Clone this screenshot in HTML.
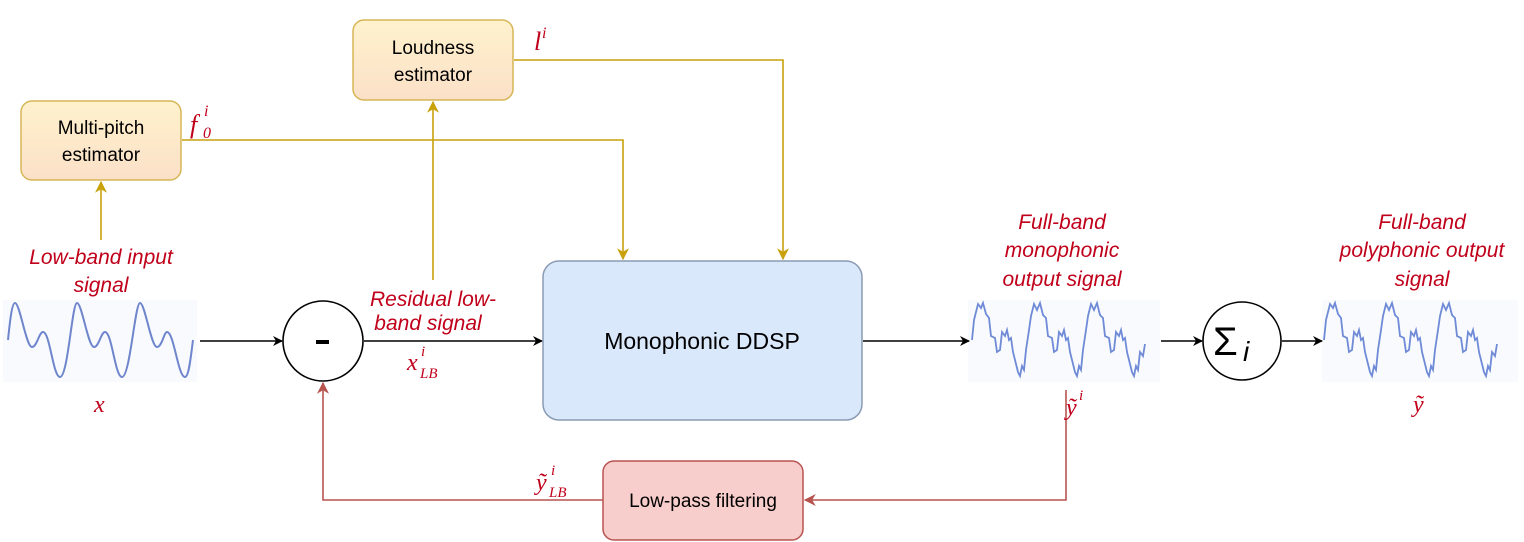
<!DOCTYPE html>
<html><head><meta charset="utf-8"><style>
body{margin:0;background:#fff;}
svg{display:block}
text{font-family:"Liberation Sans",sans-serif;}
.lab{fill:#c0001a;font-style:italic;font-size:21px;}
.m{fill:#c0001a;font-family:"Liberation Serif",serif;font-style:italic;}
</style></head><body>
<svg width="1524" height="542" viewBox="0 0 1524 542" xmlns="http://www.w3.org/2000/svg">
<defs>
<marker id="ak" markerWidth="10" markerHeight="10" refX="9" refY="5" orient="auto" markerUnits="userSpaceOnUse" viewBox="0 0 10 10"><path d="M0,0 L10,5 L0,10 L3,5z" fill="#000"/></marker>
<marker id="ay" markerWidth="12" markerHeight="12" refX="9" refY="5" orient="auto" markerUnits="userSpaceOnUse" viewBox="0 0 10 10"><path d="M0,0 L10,5 L0,10 L3,5z" fill="#c9a10b"/></marker>
<marker id="ar" markerWidth="12" markerHeight="12" refX="9" refY="5" orient="auto" markerUnits="userSpaceOnUse" viewBox="0 0 10 10"><path d="M0,0 L10,5 L0,10 L3,5z" fill="#b85450"/></marker>
<linearGradient id="go" x1="0" y1="0" x2="0" y2="1"><stop offset="0" stop-color="#fff2cc"/><stop offset="1" stop-color="#fbe0c8"/></linearGradient>
</defs>
<!-- waveforms backgrounds -->
<rect x="3" y="300" width="194" height="82" fill="#f8fafe"/>
<rect x="968" y="300" width="192" height="82" fill="#f8fafe"/>
<rect x="1322" y="300" width="196" height="82" fill="#f8fafe"/>
<path d="M8,340 C10,320 12,303 15,303 C20,303 26,347 32,347 C37,347 39,332 43,332 C50,332 53,377 60,377 C68,377 72,303 77,303 C82,303 88,347 94,347 C99,347 101,332 105,332 C112,332 115,377 122,377 C130,377 135,303 140,303 C145,303 151,347 157,347 C162,347 164,332 167,332 C174,332 178,377 185,377 C189,377 191,355 193,340" fill="none" stroke="#6f86cc" stroke-width="2"/>
<g fill="none" stroke="#6f8ad6" stroke-width="1.8">
<polyline id="nw" points="972,340 974,320 978,304 981,308 983,303 986,314 989,318 991,336 995,338 997,352 1000,350 1002,332 1005,336 1007,330 1009,340 1011,338 1013,352 1016,364 1018,372 1020,376 1022,366 1024,370 1026,350 1029,330 1031,316 1034,304 1037,310 1040,303 1043,315 1046,318 1048,336 1052,338 1054,352 1057,350 1059,332 1062,336 1064,330 1066,340 1068,338 1070,352 1073,364 1075,372 1077,376 1079,366 1081,370 1083,350 1086,330 1088,316 1091,304 1094,310 1097,303 1100,315 1103,318 1105,336 1109,338 1111,352 1114,350 1116,332 1119,336 1121,330 1123,340 1125,338 1127,352 1130,364 1132,372 1134,376 1136,366 1138,370 1140,352 1143,356 1145,344"/>
<use href="#nw" transform="translate(352,0)"/>
</g>
<!-- connectors -->
<g stroke="#000" stroke-width="1.6" fill="none">
<line x1="200" y1="341" x2="282" y2="341" marker-end="url(#ak)"/>
<line x1="364" y1="341" x2="542" y2="341" marker-end="url(#ak)"/>
<line x1="863" y1="341" x2="969" y2="341" marker-end="url(#ak)"/>
<line x1="1161" y1="341" x2="1202" y2="341" marker-end="url(#ak)"/>
<line x1="1282" y1="341" x2="1322" y2="341" marker-end="url(#ak)"/>
</g>
<g stroke="#c9a10b" stroke-width="1.6" fill="none">
<line x1="101" y1="240" x2="101" y2="182" marker-end="url(#ay)"/>
<line x1="433" y1="280" x2="433" y2="102" marker-end="url(#ay)"/>
<polyline points="182,140 623,140 623,259" marker-end="url(#ay)"/>
<polyline points="514,60 783,60 783,259" marker-end="url(#ay)"/>
</g>
<g stroke="#b85450" stroke-width="1.6" fill="none">
<polyline points="1066,390 1066,500 805,500" marker-end="url(#ar)"/>
<polyline points="603,500 323,500 323,383" marker-end="url(#ar)"/>
</g>
<!-- boxes -->
<rect x="21" y="101" width="160" height="79" rx="11" fill="url(#go)" stroke="#d6b656" stroke-width="1.5"/>
<text x="101" y="134" font-size="19" text-anchor="middle">Multi-pitch</text>
<text x="101" y="161" font-size="19" text-anchor="middle">estimator</text>
<rect x="353" y="20" width="160" height="80" rx="11" fill="url(#go)" stroke="#d6b656" stroke-width="1.5"/>
<text x="433" y="54" font-size="19" text-anchor="middle">Loudness</text>
<text x="433" y="81" font-size="19" text-anchor="middle">estimator</text>
<rect x="543" y="261" width="319" height="159" rx="16" fill="#dae8fc" stroke="#8a9bb3" stroke-width="1.5"/>
<text x="702" y="349" font-size="23" text-anchor="middle">Monophonic DDSP</text>
<rect x="603" y="461" width="200" height="79" rx="11" fill="#f8cecc" stroke="#b85450" stroke-width="1.5"/>
<text x="703" y="507" font-size="19" text-anchor="middle">Low-pass filtering</text>
<circle cx="323" cy="341" r="40" fill="#fff" stroke="#000" stroke-width="1.6"/>
<rect x="316" y="340" width="13" height="4" fill="#000"/>
<circle cx="1242" cy="341" r="39" fill="#fff" stroke="#000" stroke-width="1.6"/>
<text x="1213" y="355" font-size="40" font-family="Liberation Serif,serif">Σ</text>
<text x="1243" y="361" font-size="28" font-family="Liberation Serif,serif" font-style="italic">i</text>
<!-- labels -->
<text class="lab" x="101" y="264" text-anchor="middle">Low-band input</text>
<text class="lab" x="101" y="292" text-anchor="middle">signal</text>
<text class="lab" x="433" y="306" text-anchor="middle" font-size="17">Residual low-</text>
<text class="lab" x="428" y="330" text-anchor="middle" font-size="17">band signal</text>
<text class="lab" x="1062" y="229" text-anchor="middle">Full-band</text>
<text class="lab" x="1062" y="257" text-anchor="middle">monophonic</text>
<text class="lab" x="1062" y="286" text-anchor="middle">output signal</text>
<text class="lab" x="1422" y="229" text-anchor="middle">Full-band</text>
<text class="lab" x="1422" y="257" text-anchor="middle">polyphonic output</text>
<text class="lab" x="1422" y="286" text-anchor="middle">signal</text>
<text class="m" x="94" y="412" font-size="24">x</text>
<text class="m" x="190" y="133" font-size="26">f</text><text class="m" x="204" y="116" font-size="16">i</text><text class="m" x="203" y="138" font-size="16" font-style="normal">0</text>
<text class="m" x="534" y="50" font-size="26">l</text><text class="m" x="542" y="38" font-size="16">i</text>
<text class="m" x="407" y="370" font-size="24">x</text><text class="m" x="421" y="356" font-size="15">i</text><text class="m" x="420" y="378" font-size="15">LB</text>
<text class="m" x="1066" y="415" font-size="24">ỹ</text><text class="m" x="1079" y="400" font-size="15">i</text>
<text class="m" x="1413" y="412" font-size="24">ỹ</text>
<text class="m" x="536" y="490" font-size="24">ỹ</text><text class="m" x="551" y="475" font-size="15">i</text><text class="m" x="549" y="497" font-size="15">LB</text>
</svg>
</body></html>
